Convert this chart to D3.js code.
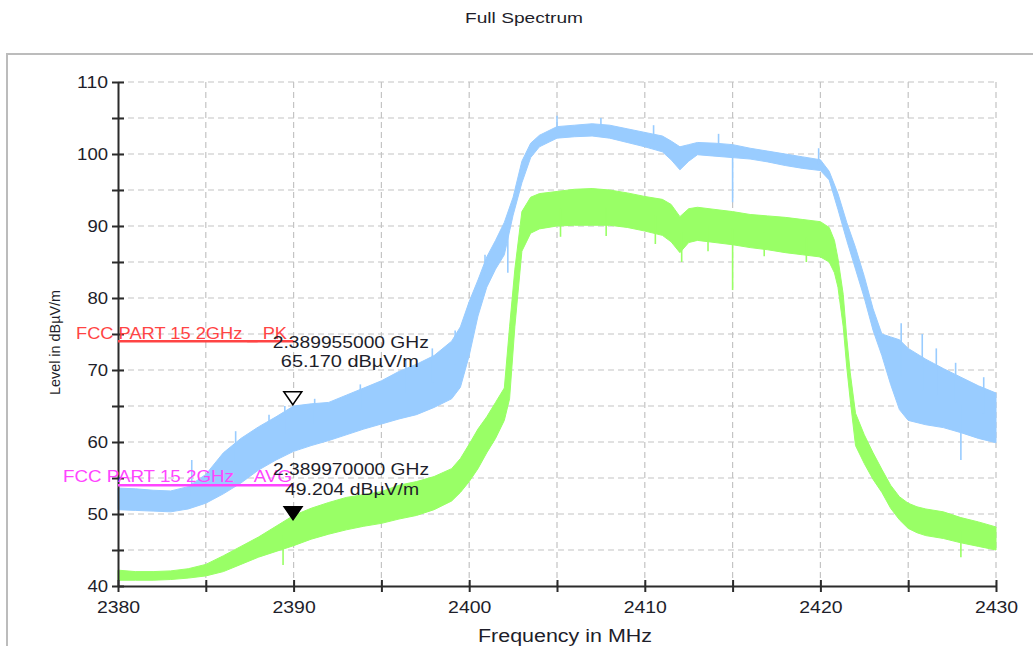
<!DOCTYPE html>
<html>
<head>
<meta charset="utf-8">
<script src="https://cdn.jsdelivr.net/npm/d3@7"></script>
<style>
  html, body { margin: 0; padding: 0; background: #fff; }
  svg { display: block; font-family: "Liberation Sans", Arial, sans-serif; }
</style>
</head>
<body>
<svg id="chart" width="1033" height="646"></svg>
<script>
// ---------- data ----------
const title = "Full Spectrum";
const xTitle = "Frequency in MHz";
const yTitle = "Level in dBµV/m";
const xTicks = [2380, 2385, 2390, 2395, 2400, 2405, 2410, 2415, 2420, 2425, 2430];
const yTicks = [40, 45, 50, 55, 60, 65, 70, 75, 80, 85, 90, 95, 100, 105, 110];

// Peak trace (blue): frequency, band top, band bottom
const pkFreq = [2380, 2381, 2382, 2383, 2384, 2385, 2386, 2387, 2388, 2389, 2390, 2391, 2392, 2393, 2394, 2395, 2396, 2397, 2398, 2399, 2399.5, 2400, 2400.5, 2401, 2401.5, 2402, 2402.5, 2403, 2403.5, 2404, 2405, 2406, 2407, 2408, 2409, 2410, 2411, 2411.5, 2412, 2412.5, 2413, 2414, 2415, 2416, 2417, 2418, 2419, 2420, 2420.5, 2421, 2421.5, 2422, 2422.5, 2423, 2423.5, 2424, 2424.5, 2425, 2426, 2427, 2428, 2429, 2430];
const pkHigh = [53.6, 53.5, 53.3, 53.2, 53.8, 55.5, 58.5, 60.5, 62.1, 63.5, 65.0, 65.3, 65.5, 66.5, 67.5, 68.5, 69.8, 70.8, 72.0, 74.0, 76.0, 79.5, 82.5, 85.7, 88.0, 90.5, 94.0, 99.0, 101.5, 102.6, 103.8, 104.0, 104.2, 104.0, 103.5, 103.0, 102.5, 101.8, 101.0, 101.3, 101.6, 101.5, 101.3, 100.8, 100.4, 100.0, 99.6, 99.2, 97.6, 94.5, 90.5, 87.0, 83.0, 78.5, 75.0, 74.6, 74.2, 73.0, 71.5, 70.2, 69.0, 67.8, 66.8];
const pkLow = [50.6, 50.5, 50.4, 50.3, 50.7, 51.5, 52.8, 54.3, 56.1, 57.5, 58.7, 59.5, 60.2, 61.0, 61.8, 62.5, 63.2, 63.8, 64.8, 66.0, 67.6, 72.0, 77.5, 81.5, 84.0, 86.0, 91.5, 96.0, 99.5, 101.0, 102.2, 102.4, 102.5, 102.2, 101.6, 101.0, 100.3, 99.2, 97.8, 99.0, 99.9, 99.7, 99.5, 99.3, 98.9, 98.4, 98.0, 97.7, 96.4, 92.3, 88.0, 84.0, 80.0, 75.5, 72.0, 68.0, 64.5, 63.0, 62.4, 62.0, 61.3, 60.5, 59.9];
// Peak trace single spikes / notches
const pkSpikeFreq = [2384.2, 2386.7, 2388.6, 2389.5, 2391.2, 2393.8, 2396.4, 2397.9, 2399.2, 2400.9, 2402.2, 2405.0, 2407.5, 2410.5, 2414.2, 2415.0, 2419.9, 2424.6, 2425.8, 2426.6, 2427.7, 2428.0, 2429.3];
const pkSpikeLevel = [57.5, 61.5, 63.8, 65.0, 66.0, 68.0, 71.5, 73.0, 75.5, 86.0, 83.5, 105.3, 105.0, 104.0, 102.8, 93.3, 100.8, 76.5, 75.0, 73.0, 71.0, 57.5, 69.0];

// Average trace (green): frequency, band top, band bottom
const avFreq = [2380, 2381, 2382, 2383, 2384, 2385, 2386, 2387, 2388, 2389, 2390, 2391, 2392, 2393, 2394, 2395, 2396, 2397, 2398, 2399, 2399.5, 2400, 2400.5, 2401, 2401.5, 2402, 2402.3, 2402.6, 2403, 2403.5, 2404, 2405, 2406, 2407, 2408, 2409, 2410, 2411, 2411.5, 2412, 2412.5, 2413, 2414, 2415, 2416, 2417, 2418, 2419, 2420, 2420.5, 2420.8, 2421, 2421.3, 2421.5, 2421.7, 2422, 2422.5, 2423, 2423.5, 2424, 2424.5, 2425, 2425.5, 2426, 2427, 2428, 2429, 2430];
const avHigh = [42.2, 42.0, 42.0, 42.1, 42.4, 43.0, 44.2, 45.5, 46.8, 48.3, 49.8, 50.8, 51.6, 52.3, 52.7, 53.1, 54.0, 54.5, 55.2, 56.3, 57.7, 59.7, 61.8, 63.5, 65.5, 67.5, 76.0, 84.0, 92.0, 94.0, 94.5, 94.8, 95.1, 95.2, 95.0, 94.6, 94.1, 93.7, 93.0, 91.3, 92.4, 92.6, 92.3, 92.0, 91.6, 91.4, 91.2, 90.9, 90.6, 89.8, 88.0, 85.5, 80.5, 74.5, 69.6, 64.0, 61.0, 58.5, 56.2, 54.0, 52.4, 51.5, 51.0, 50.7, 50.3, 49.5, 48.9, 48.2];
const avLow = [40.8, 40.8, 40.8, 40.9, 41.1, 41.4, 42.0, 43.0, 44.0, 44.8, 45.6, 46.5, 47.2, 47.8, 48.3, 48.7, 49.3, 49.8, 50.6, 51.8, 53.0, 54.5, 56.3, 58.5, 60.5, 63.0, 66.0, 76.0, 86.5, 89.0, 89.6, 90.0, 90.1, 90.1, 90.1, 89.8, 89.3, 88.7, 87.8, 86.3, 87.7, 88.0, 87.7, 87.4, 87.0, 86.7, 86.3, 86.0, 85.7, 85.0, 83.5, 81.5, 76.0, 70.4, 65.8, 59.5, 57.0, 54.8, 53.0, 50.8, 49.2, 48.0, 47.4, 47.0, 46.6, 46.0, 45.5, 45.0];
// Average trace single spikes / notches
const avSpikeFreq = [2389.4, 2405.2, 2407.8, 2410.6, 2412.1, 2413.6, 2415.0, 2416.8, 2419.2, 2428.0];
const avSpikeLevel = [42.9, 88.5, 88.6, 87.5, 85.0, 86.5, 81.1, 85.8, 85.0, 44.0];

// Limit lines
const limitNames = ["FCC PART 15 2GHz _ PK", "FCC PART 15 2GHz _ AVG"];
const limitLevels = [74, 54];
const limitStart = [2380, 2380];
const limitEnd = [2390, 2390];

// Markers
const markerFreqMHz = [2389.955, 2389.970];
const markerLevels = [65.170, 49.204];
const markerFreqText = ["2.389955000 GHz", "2.389970000 GHz"];
const markerLevelText = ["65.170 dBµV/m", "49.204 dBµV/m"];

// ---------- drawing ----------
const svg = d3.select("#chart");
const x = d3.scaleLinear().domain([2380, 2430]).range([118, 996]);
const y = d3.scaleLinear().domain([40, 110]).range([586, 82]);
const axisColor = "#2b2b2b";
const textColor = "#1e1e2a";

function wideText(sel, len) {
  return sel.attr("textLength", len).attr("lengthAdjust", "spacingAndGlyphs");
}

// outer frame
svg.append("rect").attr("x", 7).attr("y", 54).attr("width", 1040).attr("height", 620)
  .attr("fill", "none").attr("stroke", "#bcbcbc").attr("stroke-width", 2);

// title
wideText(svg.append("text").attr("x", 465).attr("y", 23).attr("font-size", 15)
  .attr("fill", textColor).text(title), 118);

// grid
const grid = svg.append("g").attr("stroke", "#c4c4c4").attr("stroke-width", 1.2).attr("stroke-dasharray", "6,4");
grid.selectAll("line.v").data(xTicks.filter(d => d > 2380)).join("line")
  .attr("x1", d => x(d)).attr("x2", d => x(d)).attr("y1", y(110)).attr("y2", y(40));
grid.selectAll("line.h").data(yTicks.filter(d => d > 40)).join("line")
  .attr("x1", x(2380)).attr("x2", x(2430)).attr("y1", d => y(d)).attr("y2", d => y(d));

// traces as min/max bands
function interp(fs, vs, f) {
  const i = Math.max(1, Math.min(fs.length - 1, d3.bisectLeft(fs, f)));
  const t = (f - fs[i - 1]) / (fs[i] - fs[i - 1]);
  return vs[i - 1] + t * (vs[i] - vs[i - 1]);
}
function drawTrace(fs, hi, lo, sf, sl, color) {
  const g = svg.append("g");
  const area = d3.area().x(i => x(fs[i])).y0(i => y(lo[i])).y1(i => y(hi[i]));
  g.append("path").attr("d", area(d3.range(fs.length))).attr("fill", color).attr("stroke", color).attr("stroke-width", 1);
  g.selectAll("line").data(d3.range(sf.length)).join("line")
    .attr("x1", i => x(sf[i])).attr("x2", i => x(sf[i]))
    .attr("y1", i => y(sl[i]))
    .attr("y2", i => y((interp(fs, hi, sf[i]) + interp(fs, lo, sf[i])) / 2))
    .attr("stroke", color).attr("stroke-width", 1.6);
}
drawTrace(pkFreq, pkHigh, pkLow, pkSpikeFreq, pkSpikeLevel, "#99ccff");
drawTrace(avFreq, avHigh, avLow, avSpikeFreq, avSpikeLevel, "#99ff66");

// axes
const yAxis = d3.axisLeft(y).tickValues(yTicks).tickSizeInner(6).tickSizeOuter(0).tickPadding(4)
  .tickFormat(d => d % 10 === 0 ? d : "");
const gy = svg.append("g").attr("transform", `translate(${x(2380)},0)`).call(yAxis);
const xAxis = d3.axisBottom(x).tickValues(xTicks).tickSizeInner(6).tickSizeOuter(0).tickPadding(10)
  .tickFormat(d => d % 10 === 0 ? d : "");
const gx = svg.append("g").attr("transform", `translate(0,${y(40)})`).call(xAxis);
gy.selectAll(".tick line").attr("x1", 6);
gx.selectAll(".tick line").attr("y1", -6);
[gx, gy].forEach(g => {
  g.select(".domain").attr("stroke", axisColor).attr("stroke-width", 2);
  g.selectAll(".tick line").attr("stroke", axisColor).attr("stroke-width", 2);
  g.selectAll(".tick text").attr("fill", textColor).attr("font-size", 16)
    .attr("font-family", "Liberation Sans, Arial, sans-serif");
});
gy.selectAll(".tick text").filter(d => d % 10 === 0).each(function (d) {
  wideText(d3.select(this), String(d).length * 10.3);
});
gx.selectAll(".tick text").filter(d => d % 10 === 0).each(function (d) {
  wideText(d3.select(this), String(d).length * 10.8);
});

// axis titles
wideText(svg.append("text").attr("x", 478).attr("y", 642).attr("font-size", 18)
  .attr("fill", textColor).text(xTitle), 174);
wideText(svg.append("text").attr("transform", `translate(60,395) rotate(-90)`).attr("font-size", 15)
  .attr("fill", textColor).text(yTitle), 105);

// limit lines
const limitColors = ["#ff4444", "#ff44ff"];
const limitTextX = [76, 63];
const limitTextLen = [211, 229];
const limitTextDy = [-2, -3.5];
limitLevels.forEach((lv, i) => {
  svg.append("line").attr("x1", x(limitStart[i])).attr("x2", x(limitEnd[i]))
    .attr("y1", y(lv)).attr("y2", y(lv)).attr("stroke", limitColors[i]).attr("stroke-width", 2.5);
  wideText(svg.append("text").attr("x", limitTextX[i]).attr("y", y(lv) + limitTextDy[i]).attr("font-size", 16)
    .attr("fill", limitColors[i]).text(limitNames[i]), limitTextLen[i]);
});

// markers
const markerFill = ["#ffffff", "#000000"];
const label1Dy = [-57, -45];
const label2Dy = [-38, -25];
markerFreqMHz.forEach((f, i) => {
  const px = x(f), py = y(markerLevels[i]);
  svg.append("path").attr("d", `M${px},${py} L${px - 9},${py - 13} L${px + 9},${py - 13} Z`)
    .attr("fill", markerFill[i]).attr("stroke", "#000").attr("stroke-width", 1.5).attr("stroke-linejoin", "miter");
  wideText(svg.append("text").attr("x", px - 20).attr("y", py + label1Dy[i]).attr("font-size", 16)
    .attr("fill", textColor).text(markerFreqText[i]), 156);
  wideText(svg.append("text").attr("x", px - 12 + i * 4).attr("y", py + label2Dy[i]).attr("font-size", 16)
    .attr("fill", textColor).text(markerLevelText[i]), 138 - i * 4);
});
</script>
</body>
</html>
